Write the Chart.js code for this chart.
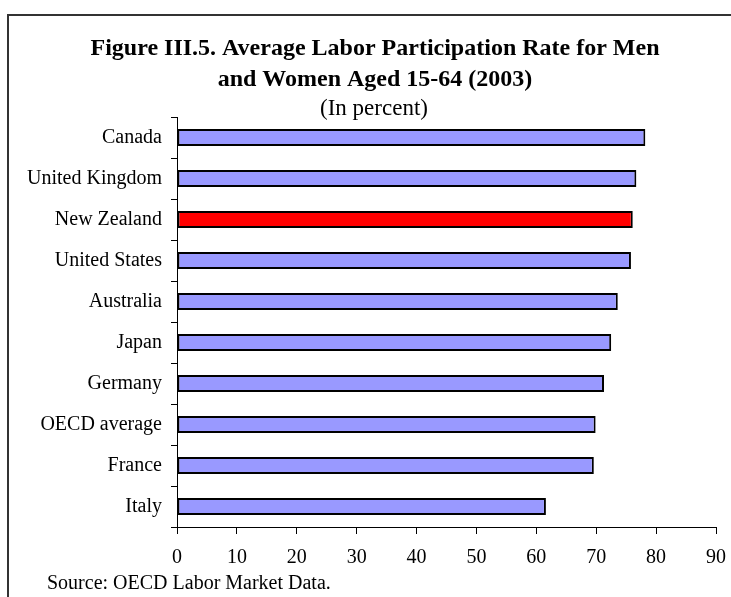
<!DOCTYPE html>
<html>
<head>
<meta charset="utf-8">
<script src="https://cdn.jsdelivr.net/npm/chart.js@4/dist/chart.umd.min.js"></script>
<style>
  html, body { margin: 0; padding: 0; background: #fff; }
  canvas { display: block; }
</style>
</head>
<body>
<canvas id="canvas" width="731" height="597"></canvas>
<script>
var countries = ['Canada', 'United Kingdom', 'New Zealand', 'United States', 'Australia',
                 'Japan', 'Germany', 'OECD average', 'France', 'Italy'];
var rates = [78.2, 76.7, 76.1, 75.8, 73.6, 72.5, 71.3, 69.9, 69.6, 61.6];
var highlighted = 'New Zealand';
var xMin = 0, xMax = 90, xStep = 10;

var titleLines = ['Figure III.5. Average Labor Participation Rate for Men',
                  'and Women Aged 15-64 (2003)'];
var subtitle = '(In percent)';
var source = 'Source: OECD Labor Market Data.';

var serif = '"Liberation Serif", "Times New Roman", serif';

// frame, title and source note drawn straight on the canvas
var decorations = {
    id: 'decorations',
    afterDraw: function(chart) {
        var ctx = chart.ctx;
        ctx.save();
        ctx.strokeStyle = '#333';
        ctx.lineWidth = 2;
        ctx.beginPath();
        ctx.moveTo(8, 597);
        ctx.lineTo(8, 15);
        ctx.lineTo(731, 15);
        ctx.stroke();

        ctx.fillStyle = '#000';
        ctx.textAlign = 'center';
        ctx.textBaseline = 'alphabetic';
        ctx.font = 'bold 24px ' + serif;
        ctx.fillText(titleLines[0], 375, 54.5);
        ctx.fillText(titleLines[1], 375, 86);
        ctx.font = '23px ' + serif;
        ctx.fillText(subtitle, 374, 114.5);

        ctx.textAlign = 'left';
        ctx.font = '20px ' + serif;
        ctx.fillText(source, 47, 588.5);
        ctx.restore();
    }
};

window.onload = function() {
    Chart.defaults.color = '#000';
    Chart.defaults.font.family = serif;

    var ctx = document.getElementById('canvas').getContext('2d');
    window.chart = new Chart(ctx, {
        type: 'bar',
        data: {
            labels: countries,
            datasets: [{
                data: rates,
                backgroundColor: countries.map(function(c) { return c === highlighted ? '#FF0000' : '#9999FF'; }),
                borderColor: '#000',
                borderWidth: 2,
                borderSkipped: false,
                barPercentage: 0.42,
                categoryPercentage: 1
            }]
        },
        options: {
            indexAxis: 'y',
            responsive: false,
            animation: false,
            layout: { padding: { top: 117, right: 15, bottom: 0, left: 0 } },
            plugins: {
                legend: { display: false },
                title: { display: false },
                tooltip: { enabled: false }
            },
            scales: {
                x: {
                    min: xMin,
                    max: xMax,
                    afterFit: function(scale) {
                        scale.height = 70;
                        scale.paddingLeft = 0;
                        scale.paddingRight = 0;
                    },
                    ticks: {
                        stepSize: xStep,
                        padding: 12,
                        font: { size: 20 },
                        color: '#000'
                    },
                    grid: {
                        drawOnChartArea: false,
                        tickLength: 7,
                        color: '#000'
                    },
                    border: { color: '#000', width: 1 }
                },
                y: {
                    afterFit: function(scale) { scale.width = 177; },
                    ticks: {
                        padding: 9,
                        font: { size: 20 },
                        color: '#000'
                    },
                    grid: {
                        offset: true,
                        drawOnChartArea: false,
                        tickLength: 6,
                        color: '#000'
                    },
                    border: { color: '#000', width: 1 }
                }
            }
        },
        plugins: [decorations]
    });
};
</script>
</body>
</html>
